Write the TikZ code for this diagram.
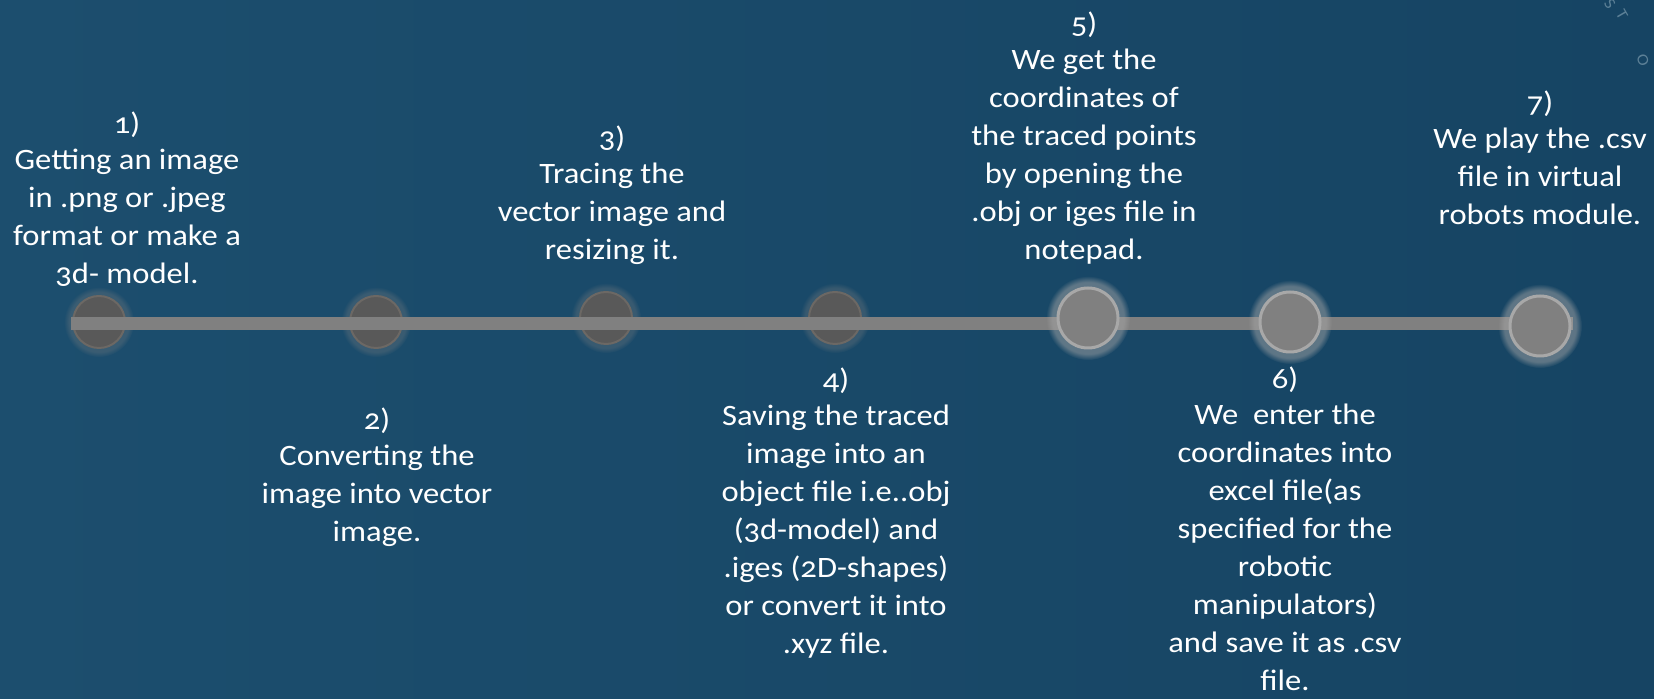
\documentclass[tikz,border=0pt]{standalone}
\usepackage{fontspec}
\setmainfont{Carlito}[Numbers=OldStyle, FakeStretch=1.1]
\usetikzlibrary{shadows,fadings}

\definecolor{bgleft}{RGB}{28,78,110}
\definecolor{bgright}{RGB}{22,68,99}
\definecolor{olddot}{RGB}{89,89,89}
\definecolor{olddotrim}{RGB}{108,104,100}
\definecolor{newdot}{RGB}{128,128,128}
\definecolor{newdotrim}{RGB}{168,168,168}
\definecolor{railgray}{RGB}{128,128,128}
\definecolor{faintblue}{RGB}{92,128,150}

\begin{document}
\begin{tikzpicture}[x=0.5pt, y=-0.5pt,
  olddotstyle/.style={circle, draw=olddotrim, line width=1pt, fill=olddot, minimum size=26pt, inner sep=0pt,
    circular glow={fill=gray, opacity=0.3, shadow scale=1.35}},
  newdotstyle/.style={circle, draw=newdotrim, line width=1.5pt, fill=newdot, minimum size=30pt, inner sep=0pt,
    circular glow={fill=gray!70!white, opacity=0.5, shadow scale=1.4}},
  steptext/.style={anchor=north, align=center, inner sep=0pt, text=white,
    font=\fontsize{14.8pt}{19pt}\selectfont},
  arcletter/.style={text=faintblue, inner sep=0pt, font=\fontsize{8pt}{8pt}\selectfont}]

\useasboundingbox (0,0) rectangle (1654,699);
\shade[left color=bgleft, right color=bgright] (0,0) rectangle (1654,699);

% the steps

\node[olddotstyle] (c1) at (99,322) {};
\node[olddotstyle] (c2) at (376,322) {};
\node[olddotstyle] (c3) at (606,318) {};
\node[olddotstyle] (c4) at (835,318) {};

\coordinate (railL) at (71,324);
\coordinate (railR) at (1573,324);
\draw[railgray, line width=6.5pt] (railL) -- (railR);

\node[newdotstyle] (c5) at (1088,318) {};
\node[newdotstyle] (c6) at (1290,322) {};
\node[newdotstyle] (c7) at (1540,326) {};

% texts

\node[steptext] (t1) at (127,111) {1)\\[-1pt]Getting an image\\in .png or .jpeg\\format or make a\\3d- model.};
\node[steptext] (t2) at (377,407) {2)\\[-1pt]Converting the\\image into vector\\image.};
\node[steptext] (t3) at (612,125) {3)\\[-1pt]Tracing the\\vector image and\\resizing it.};
\node[steptext] (t4) at (836,367) {4)\\[-1pt]Saving the traced\\image into an\\object file i.e..obj\\(3d-model) and\\.iges (2D-shapes)\\or convert it into\\.xyz file.};
\node[steptext] (t5) at (1084,11) {5)\\[-1pt]We get the\\coordinates of\\the traced points\\by opening the\\.obj or iges file in\\notepad.};
\node[steptext] (t6) at (1285,366) {6)\\[-1pt]We\ \ enter the\\coordinates into\\excel file(as\\specified for the\\robotic\\manipulators)\\and save it as .csv\\file.};
\node[steptext] (t7) at (1540,90) {7)\\[-1pt]We play the .csv\\file in virtual\\robots module.};

% faint letters, top right

\node[arcletter, rotate=-55] (arcS) at (1610,4) {S};
\node[arcletter, rotate=-60] (arcT) at (1622,15) {T};
\node[arcletter, rotate=-70] (arcO) at (1643,60) {O};

\end{tikzpicture}
\end{document}
